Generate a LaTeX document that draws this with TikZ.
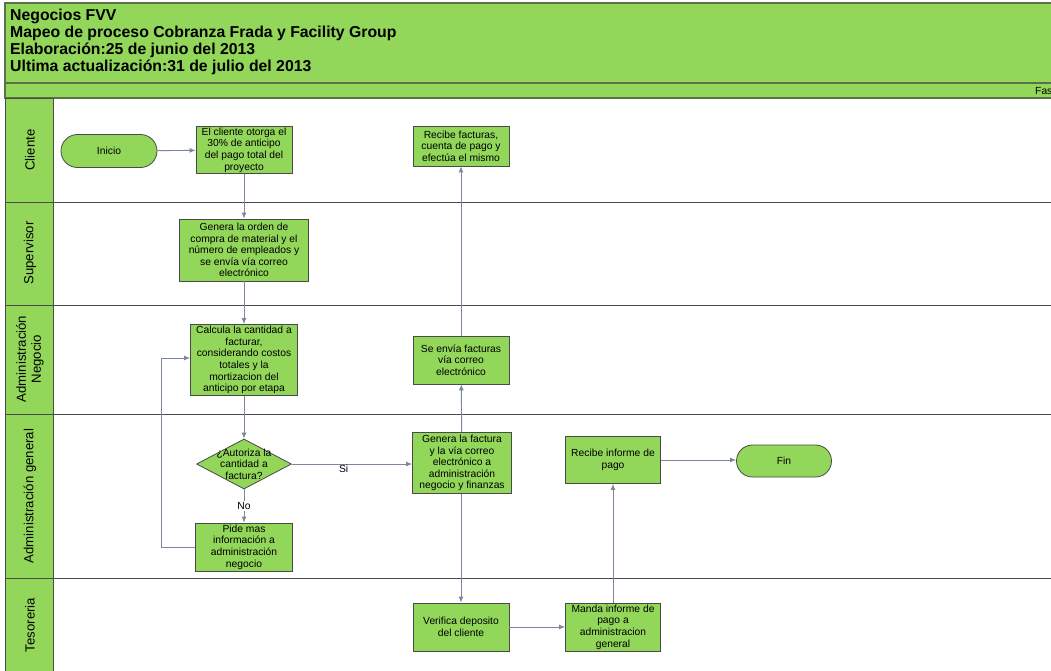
\documentclass[tikz,border=0pt]{standalone}
\usepackage{fontspec}
\setmainfont{Liberation Sans}
\usetikzlibrary{arrows.meta,shapes.geometric,shapes.misc}
\definecolor{grn}{HTML}{92D65A}
\definecolor{bord}{HTML}{4A4A4A}
\definecolor{hbord}{HTML}{5E7048}
\definecolor{arr}{HTML}{7A879C}
\tikzset{
  proc/.style={rectangle, draw=bord, fill=grn, line width=0.8pt, inner sep=0pt, align=center,
    font=\fontsize{10.3}{11.6}\selectfont},
  term/.style={rounded rectangle, draw=bord, fill=grn, line width=0.8pt, inner sep=0pt,
    minimum width=96pt, minimum height=33pt, font=\fontsize{10.3}{11.6}\selectfont},
  dec/.style={diamond, draw=bord, fill=grn, line width=0.8pt, inner sep=0pt,
    minimum width=95pt, minimum height=50pt},
  flow/.style={draw=arr, line width=0.9pt, -{Latex[length=6pt,width=5pt]}},
  lanebox/.style={draw=bord, fill=grn, line width=0.8pt},
  lanetxt/.style={rotate=90, align=center, font=\fontsize{13.2}{15}\selectfont},
  lbl/.style={font=\fontsize{10.3}{11.6}\selectfont, inner sep=1pt}
}
\begin{document}
\begin{tikzpicture}[x=1pt,y=-1pt]
\useasboundingbox (0,0) rectangle (1051,670);
\fill[white] (0,0) rectangle (1051,670);
\begin{scope}
\clip (0,0) rectangle (1051,670);
% header
\draw[fill=grn, draw=hbord, line width=1.2pt] (5,3) rectangle (1060,83);
\draw[fill=grn, draw=hbord, line width=1.2pt] (5,83) rectangle (1060,98);
\node[anchor=north west, align=left, inner sep=0pt, font=\bfseries\fontsize{15.8}{17}\selectfont] (title) at (10,9)
  {Negocios FVV\\Mapeo de proceso Cobranza Frada y Facility Group\\Elaboración:25 de junio del 2013\\Ultima actualización:31 de julio del 2013};
\node[anchor=west, inner sep=0pt, font=\fontsize{10.3}{11}\selectfont] (fase) at (1035,91) {Fas};
% lanes
\draw[lanebox] (5,98) rectangle (53,202);
\draw[lanebox] (5,202) rectangle (53,305);
\draw[lanebox] (5,305) rectangle (53,414);
\draw[lanebox] (5,414) rectangle (53,578);
\draw[lanebox] (5,578) rectangle (53,680);
\foreach \yy in {202,305,414,578}{\draw[bord, line width=0.8pt] (53,\yy) -- (1060,\yy);}
\node[lanetxt] (l1) at (30,150) {Cliente};
\node[lanetxt] (l2) at (30,253) {Supervisor};
\node[lanetxt] (l3) at (30,359) {Administración\\Negocio};
\node[lanetxt] (l4) at (30,496) {Administración general};
\node[lanetxt] (l5) at (30,625) {Tesoreria};
\end{scope}
% nodes
\node[term] (inicio) at (109,151) {Inicio};
\node[proc, minimum width=96pt, minimum height=47pt] (b1) at (244,150)
  {El cliente otorga el\\30\% de anticipo\\del pago total del\\proyecto};
\node[proc, minimum width=129pt, minimum height=62pt] (b2) at (244,250)
  {Genera la orden de\\compra de material y el\\número de empleados y\\se envía vía correo\\electrónico};
\node[proc, minimum width=107pt, minimum height=71pt] (b3) at (244,360)
  {Calcula la cantidad a\\facturar,\\considerando costos\\totales y la\\mortizacion del\\anticipo por etapa};
\node[dec] (d) at (244,464) {};
\node[lbl, align=center] (dt) at (244,464) {¿Autoriza la\\cantidad a\\factura?};
\node[proc, minimum width=97pt, minimum height=48pt] (b4) at (244,547)
  {Pide mas\\información a\\administración\\negocio};
\node[proc, minimum width=96pt, minimum height=40pt] (b5) at (461,146)
  {Recibe facturas,\\cuenta de pago y\\efectúa el mismo};
\node[proc, minimum width=96pt, minimum height=48pt] (b6) at (461,360)
  {Se envía facturas\\vía correo\\electrónico};
\node[proc, minimum width=99pt, minimum height=61pt] (b7) at (462,463)
  {Genera la factura\\y la vía correo\\electrónico a\\administración\\negocio y finanzas};
\node[proc, minimum width=96pt, minimum height=48pt] (b8) at (461,627)
  {Verifica deposito\\del cliente};
\node[proc, minimum width=95pt, minimum height=48pt] (b9) at (613,627)
  {Manda informe de\\pago a\\administracion\\general};
\node[proc, minimum width=95pt, minimum height=47pt] (b10) at (613,460)
  {Recibe informe de\\pago};
\node[term, minimum width=95pt, minimum height=32pt] (fin) at (784,461) {Fin};
% connectors
\draw[flow] (inicio) -- (b1);
\draw[flow] (b1) -- (b2);
\draw[flow] (b2) -- (b3);
\draw[flow] (b3) -- (d);
\draw[flow] (d) -- node[lbl, pos=0.5, fill=white] (no) {No} (b4);
\draw[flow] (b4.west) -- ++(-34,0) |- ([yshift=2pt]b3.west);
\draw[flow] (d.east) -- node[lbl, pos=0.43, below=0pt] (si) {Si} (b7.west |- d.east);
\draw[flow] (b7) -- (b6);
\draw[flow] (b6) -- (b5);
\draw[flow] ([xshift=-1pt]b7.south) -- ([xshift=-1pt]b7.south |- b8.north);
\draw[flow] (b8) -- (b9);
\draw[flow] (b9) -- (b10);
\draw[flow] (b10.east) -- (fin.west |- b10.east);
\end{tikzpicture}
\end{document}
